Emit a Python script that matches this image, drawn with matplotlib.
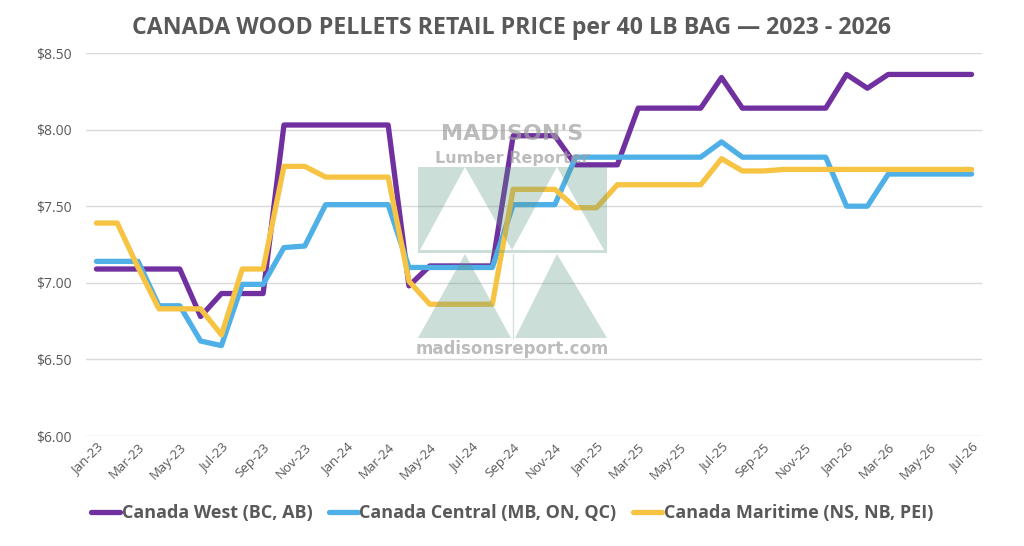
import matplotlib.pyplot as plt
from matplotlib.patches import Polygon
from matplotlib.lines import Line2D

# monthly labels Jan-23 .. Jul-26
months = ["Jan", "Feb", "Mar", "Apr", "May", "Jun", "Jul", "Aug", "Sep", "Oct", "Nov", "Dec"]
labels = [f"{m}-{y}" for y in ("23", "24", "25", "26") for m in months][:43]

west = [7.09, 7.09, 7.09, 7.09, 7.09, 6.78, 6.93, 6.93, 6.93, 8.03,
        8.03, 8.03, 8.03, 8.03, 8.03, 6.98, 7.11, 7.11, 7.11, 7.11,
        7.96, 7.96, 7.96, 7.77, 7.77, 7.77, 8.14, 8.14, 8.14, 8.14,
        8.34, 8.14, 8.14, 8.14, 8.14, 8.14, 8.36, 8.27, 8.36, 8.36,
        8.36, 8.36, 8.36]
central = [7.14, 7.14, 7.14, 6.85, 6.85, 6.62, 6.59, 6.99, 6.99, 7.23,
           7.24, 7.51, 7.51, 7.51, 7.51, 7.10, 7.10, 7.10, 7.10, 7.10,
           7.51, 7.51, 7.51, 7.82, 7.82, 7.82, 7.82, 7.82, 7.82, 7.82,
           7.92, 7.82, 7.82, 7.82, 7.82, 7.82, 7.50, 7.50, 7.71, 7.71,
           7.71, 7.71, 7.71]
maritime = [7.39, 7.39, 7.10, 6.83, 6.83, 6.83, 6.66, 7.09, 7.09, 7.76,
            7.76, 7.69, 7.69, 7.69, 7.69, 7.01, 6.86, 6.86, 6.86, 6.86,
            7.61, 7.61, 7.61, 7.49, 7.49, 7.64, 7.64, 7.64, 7.64, 7.64,
            7.81, 7.73, 7.73, 7.74, 7.74, 7.74, 7.74, 7.74, 7.74, 7.74,
            7.74, 7.74, 7.74]

series_names = ["Canada West (BC, AB)", "Canada Central (MB, ON, QC)", "Canada Maritime (NS, NB, PEI)"]
colors = ["#7030A0", "#4FB0E8", "#F6C343"]

plt.rcParams['font.family'] = ['Open Sans', 'DejaVu Sans']

fig = plt.figure(figsize=(10.24, 5.46), dpi=100)
ax = fig.add_axes([86 / 1024, 1 - 436 / 546, 896 / 1024, 383 / 546])

x = list(range(len(labels)))
for vals, col, name in zip([west, central, maritime], colors, series_names):
    ax.plot(x, vals, color=col, lw=3.8, label=name,
            solid_capstyle='round', solid_joinstyle='round')

ax.set_xlim(-0.5, len(labels) - 0.5)
ax.set_ylim(6.0, 8.5)
ax.set_yticks([6.0, 6.5, 7.0, 7.5, 8.0, 8.5])
ax.set_yticklabels([f"${v:.2f}" for v in [6.0, 6.5, 7.0, 7.5, 8.0, 8.5]])
ax.grid(axis='y', color='#d9d9d9', lw=1)
ax.set_axisbelow(True)
for s in ax.spines.values():
    s.set_visible(False)
ax.tick_params(axis='both', length=0, colors='#595959', labelsize=10)
ax.tick_params(axis='y', pad=10)

ax.set_xticks(x[::2])
ax.set_xticklabels(labels[::2], rotation=45, ha='right', rotation_mode='anchor',
                   fontsize=9.5, color='#595959')

fig.text(0.5, 1 - 28 / 546, "CANADA WOOD PELLETS RETAIL PRICE per 40 LB BAG \u2014 2023 - 2026",
         ha='center', va='center', fontsize=16.7, fontweight='bold', color='#595959')

leg = fig.legend(loc='center', bbox_to_anchor=(0.5, 1 - 513 / 546), ncol=3, frameon=False,
                 handlelength=1.6, handletextpad=0.1, columnspacing=0.9,
                 prop={'size': 13, 'weight': 'bold'})
for t in leg.get_texts():
    t.set_color('#595959')


# watermark, drawn in figure pixels
def fp(px, py):
    return (px / 1024, 1 - py / 546)


def wm_poly(pts):
    fig.add_artist(Polygon([fp(*p) for p in pts], closed=True, transform=fig.transFigure,
                           facecolor='#5a9682', alpha=0.31, edgecolor='none', zorder=5))


# top block: green with two white triangles cut out
wm_poly([(418, 167), (465, 167), (420, 250), (418, 250)])
wm_poly([(465, 167), (557, 167), (512, 250)])
wm_poly([(557, 167), (607, 167), (607, 250), (604, 250)])
wm_poly([(418, 250), (607, 250), (607, 253), (418, 253)])
# bottom block: two green triangles
wm_poly([(465, 254), (418, 338), (511, 338)])
wm_poly([(557, 254), (515, 338), (607, 338)])
fig.add_artist(Line2D([513 / 1024, 513 / 1024], [1 - 254 / 546, 1 - 338 / 546],
                      transform=fig.transFigure, color='#5a9682', alpha=0.25, lw=1, zorder=5))

fig.text(*fp(512, 134), "MADISON'S", ha='center', va='center', fontsize=16,
         fontweight='black', color='#a0a0a0', alpha=0.7, zorder=7, family='DejaVu Sans')
fig.text(*fp(512, 158), "Lumber Reporter", ha='center', va='center', fontsize=11.5,
         fontweight='bold', color='#a0a0a0', alpha=0.7, zorder=7, family='DejaVu Sans')
fig.text(*fp(512, 349), "madisonsreport.com", ha='center', va='center', fontsize=12,
         fontweight='bold', color='#a0a0a0', alpha=0.7, zorder=7, family='DejaVu Sans')

fig.savefig("out.png", dpi=100)
